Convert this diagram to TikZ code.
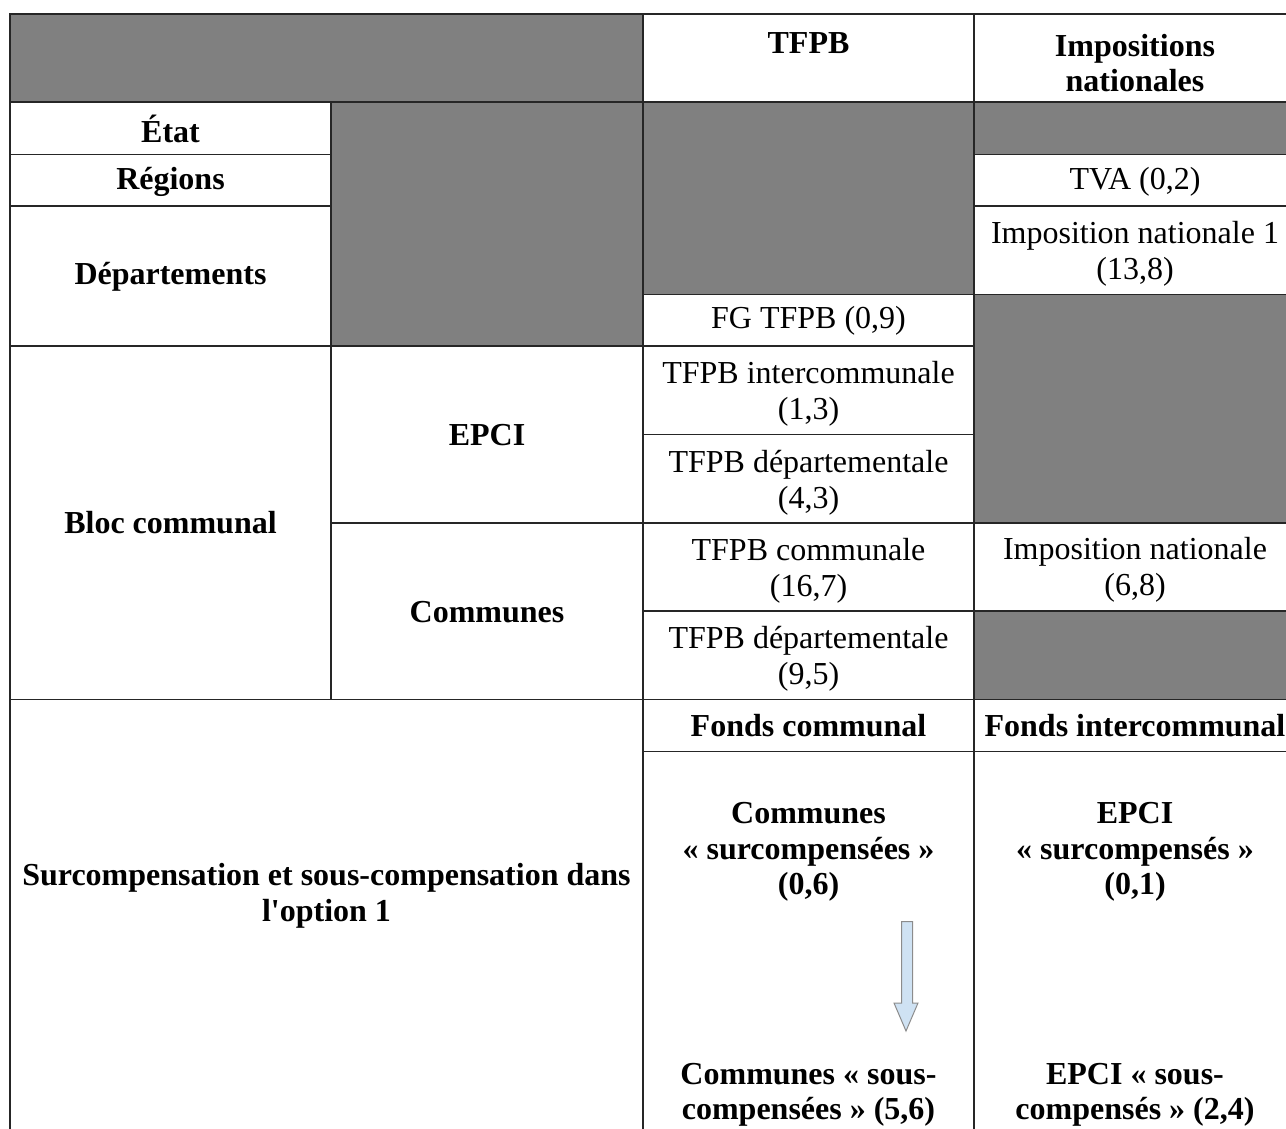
\documentclass[tikz,border=0pt]{standalone}
\usepackage{fontspec}
\setmainfont{Liberation Serif}[Ligatures=TeXOff]
\begin{document}
\begin{tikzpicture}[x=1pt,y=-1pt,
  grid/.style={draw=black!85,line width=1.3pt},
  greycell/.style={fill=black!50},
  txt/.style={align=center,inner sep=0pt,font=\fontsize{32}{35.5}\selectfont},
  btxt/.style={txt,font=\fontsize{32}{35.5}\selectfont\bfseries}]
\useasboundingbox (0,0) rectangle (1286,1128);
\def\Xa{10}\def\Xb{331}\def\Xc{643}\def\Xd{974}\def\Xe{1297}
% grey cells
\fill[greycell] (\Xa,14) rectangle (\Xc,102);
\fill[greycell] (\Xb,102) rectangle (\Xc,346);
\fill[greycell] (\Xc,102) rectangle (\Xd,294.5);
\fill[greycell] (\Xd,102) rectangle (\Xe,154.5);
\fill[greycell] (\Xd,294.5) rectangle (\Xe,523);
\fill[greycell] (\Xd,611) rectangle (\Xe,699.5);
% grid
\draw[grid] (\Xa,14) rectangle (\Xe,1140);
\draw[grid] (\Xa,102) -- (\Xe,102);
\draw[grid] (\Xa,154.5) -- (\Xb,154.5);
\draw[grid] (\Xd,154.5) -- (\Xe,154.5);
\draw[grid] (\Xa,206) -- (\Xb,206);
\draw[grid] (\Xd,206) -- (\Xe,206);
\draw[grid] (\Xc,294.5) -- (\Xe,294.5);
\draw[grid] (\Xa,346) -- (\Xd,346);
\draw[grid] (\Xc,434.5) -- (\Xd,434.5);
\draw[grid] (\Xb,523) -- (\Xe,523);
\draw[grid] (\Xc,611) -- (\Xe,611);
\draw[grid] (\Xa,699.5) -- (\Xe,699.5);
\draw[grid] (\Xc,751.5) -- (\Xe,751.5);
\draw[grid] (\Xb,102) -- (\Xb,699.5);
\draw[grid] (\Xc,14) -- (\Xc,1140);
\draw[grid] (\Xd,14) -- (\Xd,1140);
% header
\node[btxt] (hTFPB) at (808.5,43) {TFPB};
\node[btxt] (hImp) at (1135,63) {Impositions\\nationales};
% column 1
\node[btxt] (etat) at (170.5,129) {État};
\node[btxt] (regions) at (170.5,181.5) {Régions};
\node[btxt] (dep) at (170.5,277) {Départements};
\node[btxt] (bloc) at (170.5,523) {Bloc communal};
% column 2
\node[btxt] (epci) at (487,435) {EPCI};
\node[btxt] (communes) at (487,612) {Communes};
% column 3
\node[txt] (fg) at (808.5,321) {FG TFPB (0,9)};
\node[txt] (tinter) at (808.5,394) {TFPB intercommunale\\(1,3)};
\node[txt] (tdep1) at (808.5,483) {TFPB départementale\\(4,3)};
\node[txt] (tcom) at (808.5,571) {TFPB communale\\(16,7)};
\node[txt] (tdep2) at (808.5,659) {TFPB départementale\\(9,5)};
\node[btxt] (fcom) at (808.5,726) {Fonds communal};
% column 4
\node[txt] (tva) at (1135,181.5) {TVA (0,2)};
\node[txt] (imp1) at (1135,254) {Imposition nationale 1\\(13,8)};
\node[txt] (impn) at (1135,570) {Imposition nationale\\(6,8)};
\node[btxt] (finter) at (1135,726) {Fonds intercommunal};
% bottom
\node[btxt] (surc) at (326.5,896) {Surcompensation et sous-compensation dans\\l'option 1};
\node[btxt] (csur) at (808.5,852) {Communes\\« surcompensées »\\(0,6)};
\node[btxt] (esur) at (1135,852) {EPCI\\« surcompensés »\\(0,1)};
\node[btxt] (csous) at (808.5,1095) {Communes « sous-\\compensées » (5,6)};
\node[btxt] (esous) at (1135,1095) {EPCI « sous-\\compensés » (2,4)};
% arrow
\draw[fill={rgb,255:red,207;green,226;blue,243},draw=black!45,line width=1pt]
  (901.5,921.5) -- (912.5,921.5) -- (912.5,1003) -- (918,1003) -- (906,1031)
  -- (894,1003) -- (901.5,1003) -- cycle;
\end{tikzpicture}
\end{document}
